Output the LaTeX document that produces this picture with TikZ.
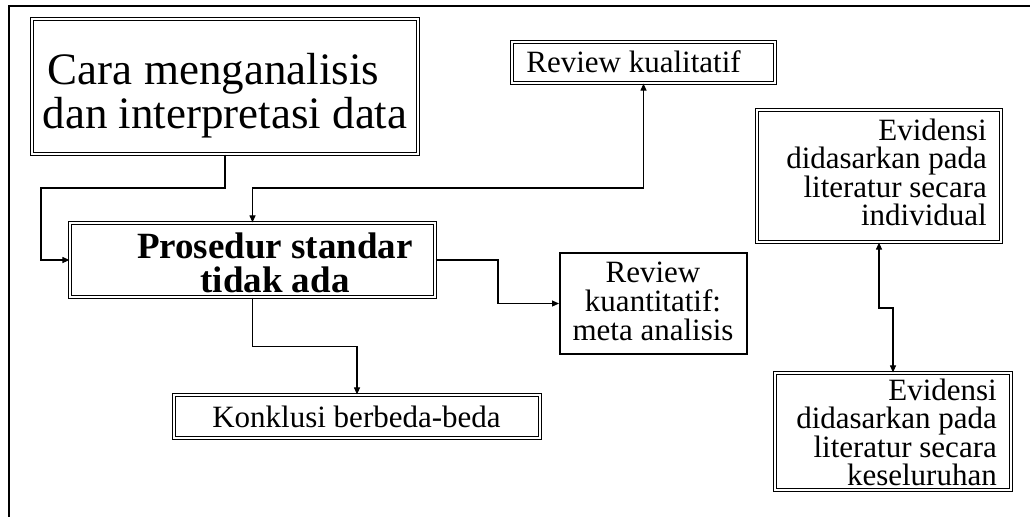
\documentclass[tikz,border=0pt]{standalone}
\usepackage{fontspec}
\setmainfont{Liberation Serif}
\usetikzlibrary{arrows.meta}
% stacked lines (rows separated by \cr); the baseline is that of the first line
\newcommand{\cstack}[1]{\vtop{\halign{\hfil##\hfil\cr#1\crcr}}}
\newcommand{\rstack}[1]{\vtop{\halign{\hfil##\cr#1\crcr}}}

\begin{document}
\begin{tikzpicture}[x=1pt,y=-1pt,
  dbox/.style={draw, double, double distance=2pt, line width=0.8pt, inner sep=0pt},
  sbox/.style={draw, line width=2pt, inner sep=0pt},
  conn/.style={line width=1.1pt, -{Triangle[length=7pt,width=6pt]}},
  biconn/.style={line width=1.1pt, {Triangle[length=7pt,width=6pt]}-{Triangle[length=7pt,width=6pt]}},
  txt/.style={inner sep=0pt, anchor=base, font=\fontsize{31}{28.5}\selectfont},
]
\useasboundingbox (0,0) rectangle (1030,517);

% frame
\draw[line width=2pt] (1030,6) -- (9,6) -- (9,517);

% boxes
\node[dbox, minimum width=386.4pt, minimum height=135.4pt] (cara) at (225,86.5) {};
\node[dbox, minimum width=263.4pt, minimum height=41.4pt] (rkual) at (643.5,62.5) {};
\node[dbox, minimum width=365.4pt, minimum height=74.4pt] (pros) at (252.5,260) {};
\node[sbox, minimum width=187pt, minimum height=101pt] (rkuan) at (653.5,303.5) {};
\node[dbox, minimum width=366.4pt, minimum height=43.4pt] (konk) at (357,416.5) {};
\node[dbox, minimum width=244.4pt, minimum height=132.4pt] (evind) at (879,176) {};
\node[dbox, minimum width=236.4pt, minimum height=117.4pt] (evkes) at (893,431.5) {};

% texts
\node[txt, font=\fontsize{45}{44}\selectfont] (cara-t) at (225,84)
  {\cstack{Cara menganalisis\hspace*{23pt}\cr dan interpretasi data}};
\node[txt, font=\bfseries\fontsize{37}{33.5}\selectfont] (pros-t) at (275,258.5)
  {\cstack{Prosedur standar\cr tidak ada}};
\node[txt] (rkual-t) at (633.5,72) {Review kualitatif};
\node[txt, font=\fontsize{31}{29}\selectfont] (rkuan-t) at (653,282)
  {\cstack{Review\cr kuantitatif:\cr meta analisis}};
\node[txt] (konk-t) at (356.5,427) {Konklusi berbeda-beda};
\node[txt, anchor=base east] (evind-t) at (987,140)
  {\rstack{Evidensi\cr didasarkan pada\cr literatur secara\cr individual}};
\node[txt, anchor=base east] (evkes-t) at (997,400)
  {\rstack{Evidensi\cr didasarkan pada\cr literatur secara\cr keseluruhan}};

% connectors
\draw[conn] (cara.south) -- (225,188) -- (41,188) |- (pros.west);
\draw[biconn] (pros.north) -- (252.5,188) -| (rkual.south);
\draw[conn] (pros.east) -- (498,260) |- (rkuan.west);
\draw[conn] (pros.south) -- (252.5,346.5) -| (konk.north);
\draw[biconn] (evind.south) -- (879,308) -| (evkes.north);
\end{tikzpicture}
\end{document}
